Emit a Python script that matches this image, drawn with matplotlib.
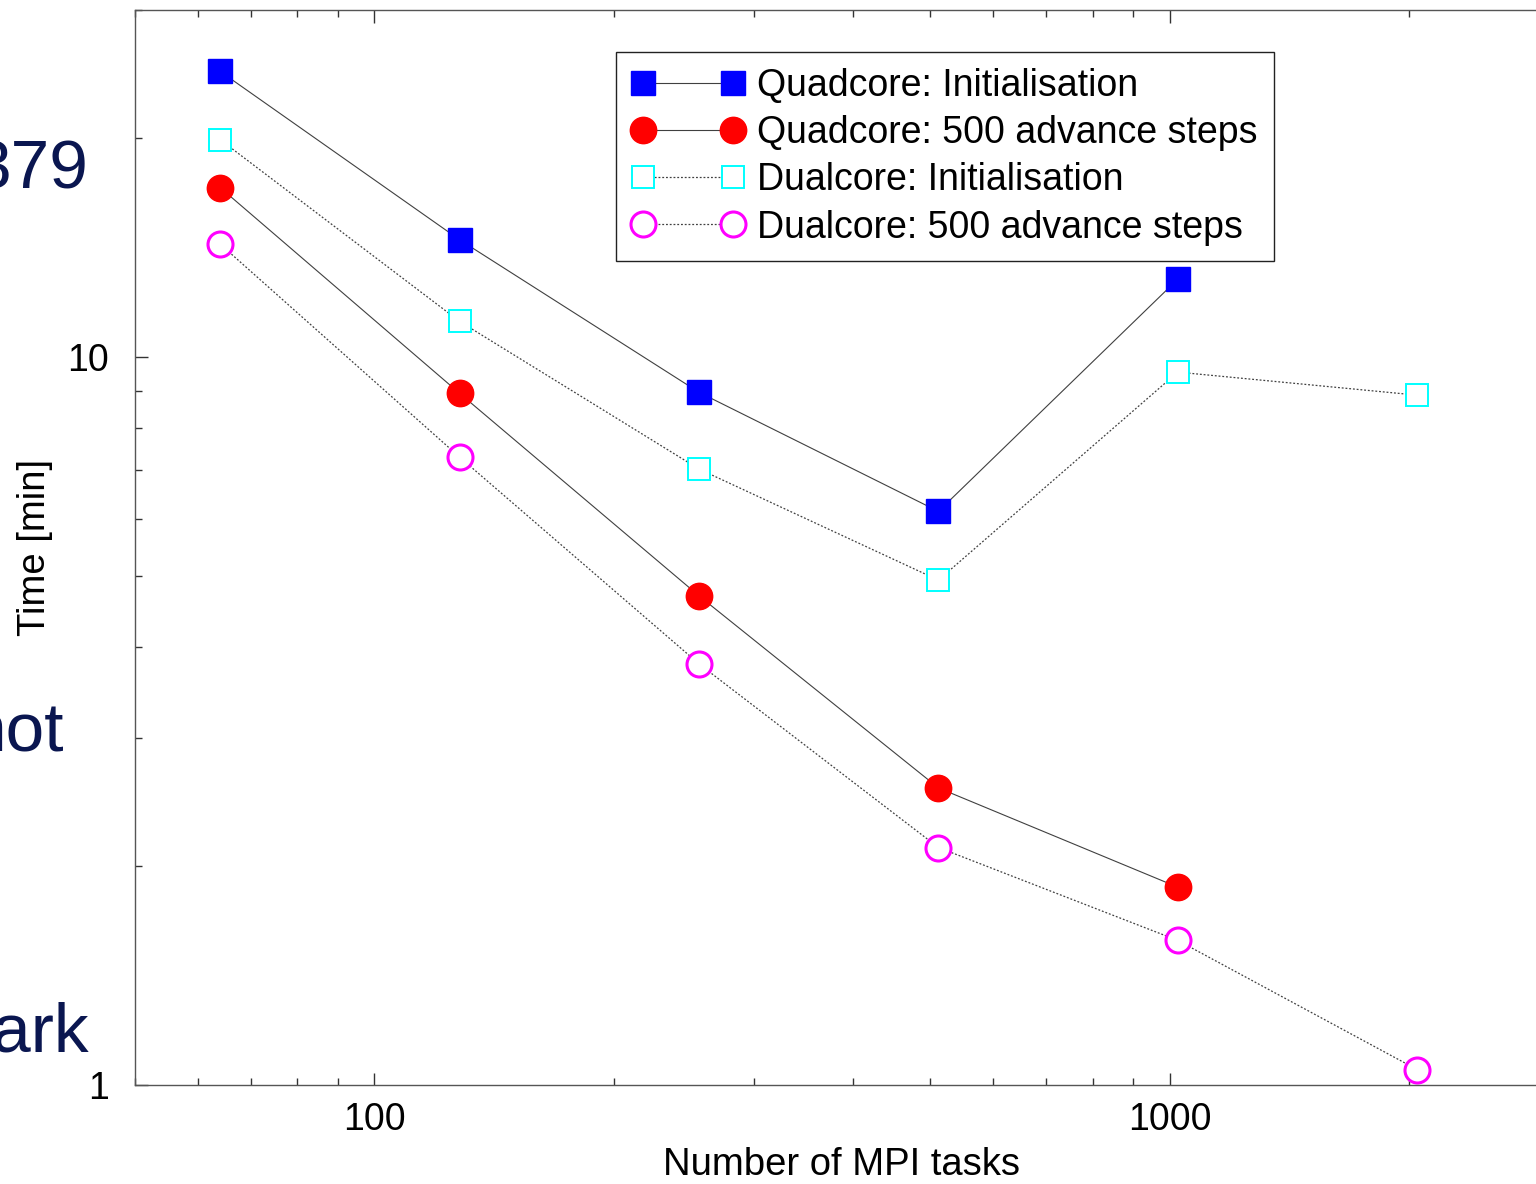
import matplotlib
matplotlib.use("Agg")
import matplotlib.pyplot as plt
from matplotlib.ticker import LogLocator, NullFormatter, FixedLocator, FixedFormatter

plt.rcParams['font.family'] = ['Liberation Sans', 'DejaVu Sans']

# data
tasks = [64, 128, 256, 512, 1024, 2048]
quad_init = [24.7, 14.5, 8.95, 6.14, 12.8]
quad_steps = [17.1, 8.92, 4.70, 2.56, 1.87]
dual_init = [19.9, 11.2, 7.02, 4.94, 9.54, 8.87]
dual_steps = [14.3, 7.29, 3.79, 2.12, 1.58, 1.05]

labels = ["Quadcore: Initialisation", "Quadcore: 500 advance steps",
          "Dualcore: Initialisation", "Dualcore: 500 advance steps"]

fig = plt.figure(figsize=(15.36, 11.84), dpi=100)
ax = fig.add_axes([135/1536, 1-1085/1184, (1549-135)/1536, (1085-10)/1184])

line_col = '#404040'
ax.plot(tasks[:5], quad_init, color=line_col, lw=0.8, marker='s', ms=17,
        mfc='#0000ff', mec='#0000ff', label=labels[0])
ax.plot(tasks[:5], quad_steps, color=line_col, lw=0.8, marker='o', ms=19,
        mfc='#ff0000', mec='#ff0000', label=labels[1])
ax.plot(tasks, dual_init, color=line_col, lw=0.9, ls=(0, (1.5, 1.5)), marker='s', ms=16,
        mfc='white', mec='#00ffff', mew=1.4, label=labels[2])
ax.plot(tasks, dual_steps, color=line_col, lw=0.9, ls=(0, (1.5, 1.5)), marker='o', ms=18,
        mfc='white', mec='#ff00ff', mew=2.2, label=labels[3])

ax.set_xscale('log')
ax.set_yscale('log')
ax.set_xlim(50, 3000)
ax.set_ylim(1, 30)

ax.xaxis.set_major_locator(FixedLocator([100, 1000]))
ax.xaxis.set_major_formatter(FixedFormatter(['100', '1000']))
ax.yaxis.set_major_locator(FixedLocator([1, 10]))
ax.yaxis.set_major_formatter(FixedFormatter(['1', '10']))
ax.xaxis.set_minor_locator(LogLocator(base=10, subs=range(2, 10)))
ax.yaxis.set_minor_locator(LogLocator(base=10, subs=range(2, 10)))
ax.xaxis.set_minor_formatter(NullFormatter())
ax.yaxis.set_minor_formatter(NullFormatter())

ax.tick_params(which='both', direction='in', top=True, right=True,
               color='#333333', width=1, labelsize=27)
ax.tick_params(which='major', length=9)
ax.tick_params(which='minor', length=5)
ax.tick_params(axis='y', pad=19)
ax.tick_params(axis='x', pad=12)
for s in ax.spines.values():
    s.set_color('#555555')
    s.set_linewidth(1.0)

ax.set_xlabel('Number of MPI tasks', fontsize=27.5, labelpad=7)
ax.set_ylabel('Time [min]', fontsize=27.5, labelpad=10)

leg = ax.legend(loc='upper left', bbox_to_anchor=(616/1536, 1-52/1184),
                bbox_transform=fig.transFigure, numpoints=2, fontsize=27,
                handlelength=3.0, handletextpad=0.35, labelspacing=0.3,
                borderpad=0.42, borderaxespad=0, fancybox=False, framealpha=1)
leg.get_frame().set_edgecolor('#222222')
leg.get_frame().set_linewidth(1.0)

# slide text cut off at the left edge
navy = '#0a1650'
fig.text(88/1536, 1-170/1184, '379', color=navy, fontsize=50, ha='right', va='center')
fig.text(64/1536, 1-733/1184, 'not', color=navy, fontsize=50, ha='right', va='center')
fig.text(89/1536, 1-1033/1184, 'ark', color=navy, fontsize=50, ha='right', va='center')

fig.savefig('out.png', dpi=100)
